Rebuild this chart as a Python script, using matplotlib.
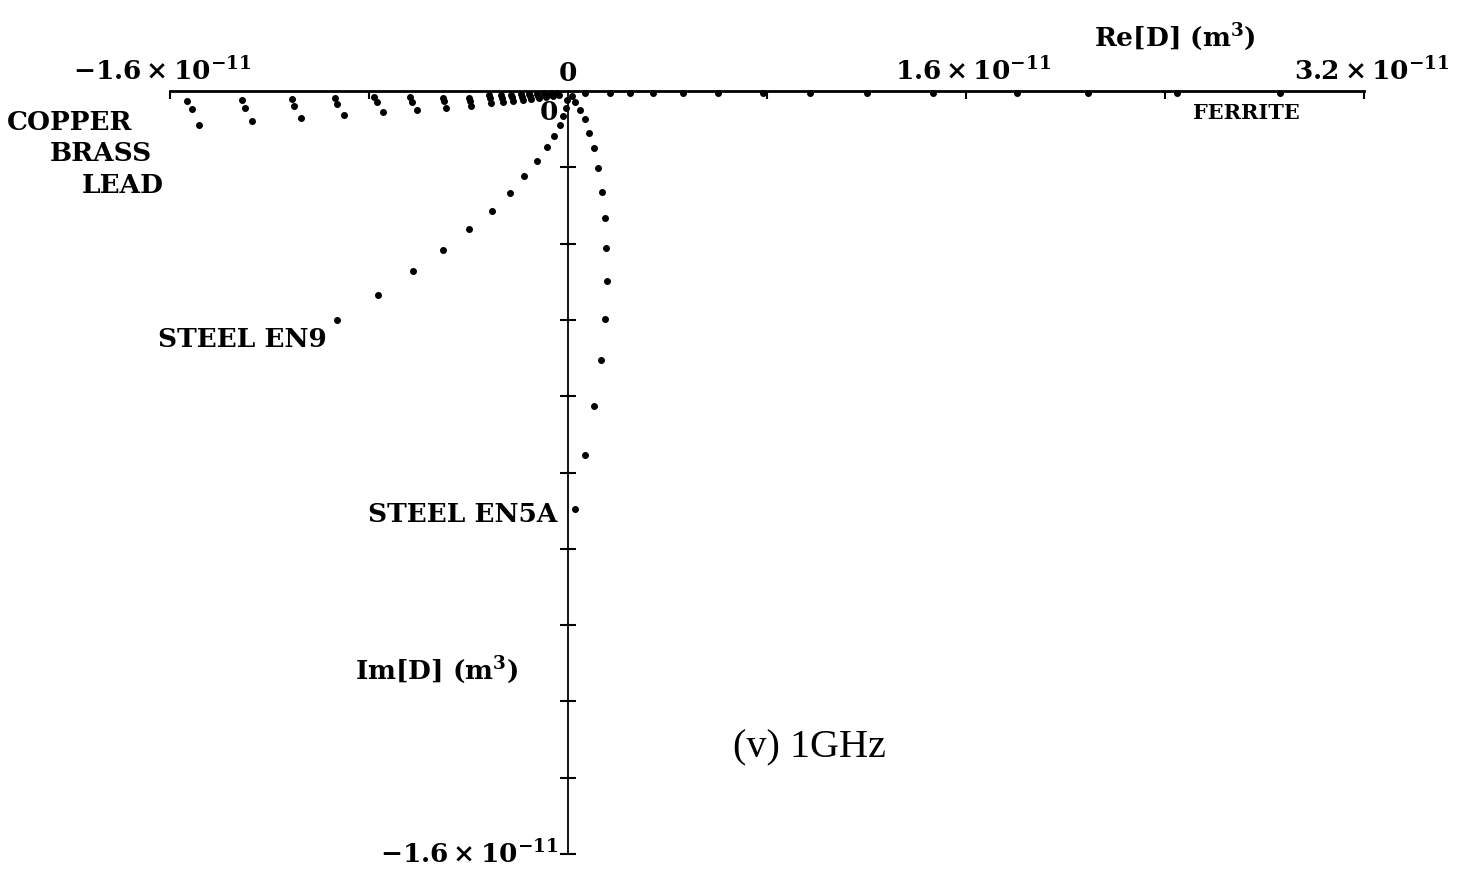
import numpy as np
import matplotlib
matplotlib.use("Agg")
import matplotlib.pyplot as plt

# Complex polarizability D of small metal spheres, 1 GHz.
# All values are in units of 1e-11 m^3 (Re on x, Im on y).
copper_re = [-1.532, -1.310, -1.109, -0.937, -0.780, -0.635, -0.503, -0.398, -0.318,
             -0.269, -0.229, -0.189, -0.157, -0.125, -0.096, -0.068, -0.044]
copper_im = [-0.021, -0.019, -0.017, -0.015, -0.013, -0.013, -0.015, -0.015, -0.008,
             -0.008, -0.008, -0.006, -0.006, -0.006, -0.004, -0.004, -0.004]

brass_re = [-1.512, -1.298, -1.101, -0.929, -0.768, -0.627, -0.498, -0.394, -0.314,
            -0.265, -0.225, -0.185, -0.153, -0.121, -0.092, -0.064, -0.040]
brass_im = [-0.038, -0.036, -0.031, -0.027, -0.023, -0.023, -0.021, -0.021, -0.015,
            -0.015, -0.013, -0.013, -0.010, -0.010, -0.008, -0.008, -0.006]

lead_re = [-1.483, -1.270, -1.073, -0.900, -0.744, -0.607, -0.490, -0.390, -0.310,
           -0.261, -0.221, -0.181, -0.149, -0.117, -0.088, -0.060, -0.036]
lead_im = [-0.071, -0.063, -0.057, -0.050, -0.044, -0.040, -0.036, -0.031, -0.025,
           -0.023, -0.021, -0.019, -0.017, -0.015, -0.013, -0.010, -0.008]

en9_re = [-0.004, -0.008, -0.020, -0.032, -0.056, -0.084, -0.125, -0.177, -0.233,
          -0.306, -0.398, -0.503, -0.623, -0.764, -0.929]
en9_im = [-0.019, -0.036, -0.052, -0.071, -0.094, -0.117, -0.147, -0.178, -0.214,
          -0.252, -0.289, -0.333, -0.377, -0.428, -0.480]

en5a_re = [0.016, 0.028, 0.048, 0.068, 0.084, 0.105, 0.121, 0.137, 0.149, 0.153,
           0.157, 0.149, 0.133, 0.105, 0.068, 0.028]
en5a_im = [-0.010, -0.023, -0.040, -0.059, -0.088, -0.120, -0.161, -0.212, -0.266,
           -0.329, -0.398, -0.478, -0.564, -0.660, -0.763, -0.877]

ferrite_re = [0.068, 0.169, 0.249, 0.342, 0.462, 0.603, 0.784, 0.973, 1.202, 1.467,
              1.805, 2.090, 2.448, 2.862]
ferrite_im = [-0.004] * len(ferrite_re)

x_ticks = [-1.6, -0.8, 0.8, 1.6, 2.4, 3.2]
y_ticks = [-0.16 * k for k in range(1, 11)]

plt.rcParams["mathtext.fontset"] = "dejavuserif"
serif = ["DejaVu Serif"]

fig = plt.figure(figsize=(14.82, 8.79), dpi=100)
ax = fig.add_axes([0, 0, 1, 1])
ax.set_xlim(-2.2835, 3.6744)
ax.set_ylim(-1.6502, 0.1929)

for s in ("top", "right"):
    ax.spines[s].set_visible(False)
ax.spines["bottom"].set_position(("data", 0))
ax.spines["left"].set_position(("data", 0))
ax.spines["bottom"].set_bounds(-1.6, 3.2)
ax.spines["left"].set_bounds(-1.6, 0)
ax.spines["bottom"].set_linewidth(2.0)
ax.spines["left"].set_linewidth(1.3)

ax.set_xticks(x_ticks)
ax.set_yticks(y_ticks)
ax.tick_params(axis="x", direction="out", length=6, width=1.5, labelbottom=False)
ax.tick_params(axis="y", direction="inout", length=12, width=1.5, labelleft=False)

dot = dict(ls="none", marker="o", ms=4, color="black")
for re, im in [(copper_re, copper_im), (brass_re, brass_im), (lead_re, lead_im),
               (en9_re, en9_im), (en5a_re, en5a_im), (ferrite_re, ferrite_im)]:
    ax.plot(re, im, **dot)

lab = dict(family=serif, fontweight="bold", fontsize=19, color="black")
num = r"$\mathbf{%s\times 10^{-11}}$"
ax.text(-1.632, 0.042, num % "-1.6", ha="center", va="center", fontsize=19)
ax.text(0.0, 0.038, "0", ha="center", va="center", **lab)
ax.text(1.628, 0.042, num % "1.6", ha="center", va="center", fontsize=19)
ax.text(3.232, 0.042, num % "3.2", ha="center", va="center", fontsize=19)
ax.text(-0.04, -1.6, num % "-1.6", ha="right", va="center", fontsize=19)
ax.text(-0.076, -0.042, "0", ha="center", va="center", **lab)

ax.text(2.44, 0.115, r"Re[D] (m$^\mathbf{3}$)", ha="center", va="center", **lab)
ax.text(-0.856, -1.212, r"Im[D] (m$^\mathbf{3}$)", ha="left", va="center", **lab)

ax.text(2.726, -0.044, "FERRITE", ha="center", va="center",
        family=serif, fontweight="bold", fontsize=15)
ax.text(-2.255, -0.063, "COPPER", ha="left", va="center", **lab)
ax.text(-2.082, -0.130, "BRASS", ha="left", va="center", **lab)
ax.text(-1.954, -0.197, "LEAD", ha="left", va="center", **lab)
ax.text(-1.648, -0.520, "STEEL EN9", ha="left", va="center", **lab)
ax.text(-0.804, -0.885, "STEEL EN5A", ha="left", va="center", **lab)

ax.text(0.663, -1.376, "(v) 1GHz", ha="left", va="center",
        family=["Liberation Serif"], fontsize=29, color="black")

fig.savefig("out.png", dpi=100)
